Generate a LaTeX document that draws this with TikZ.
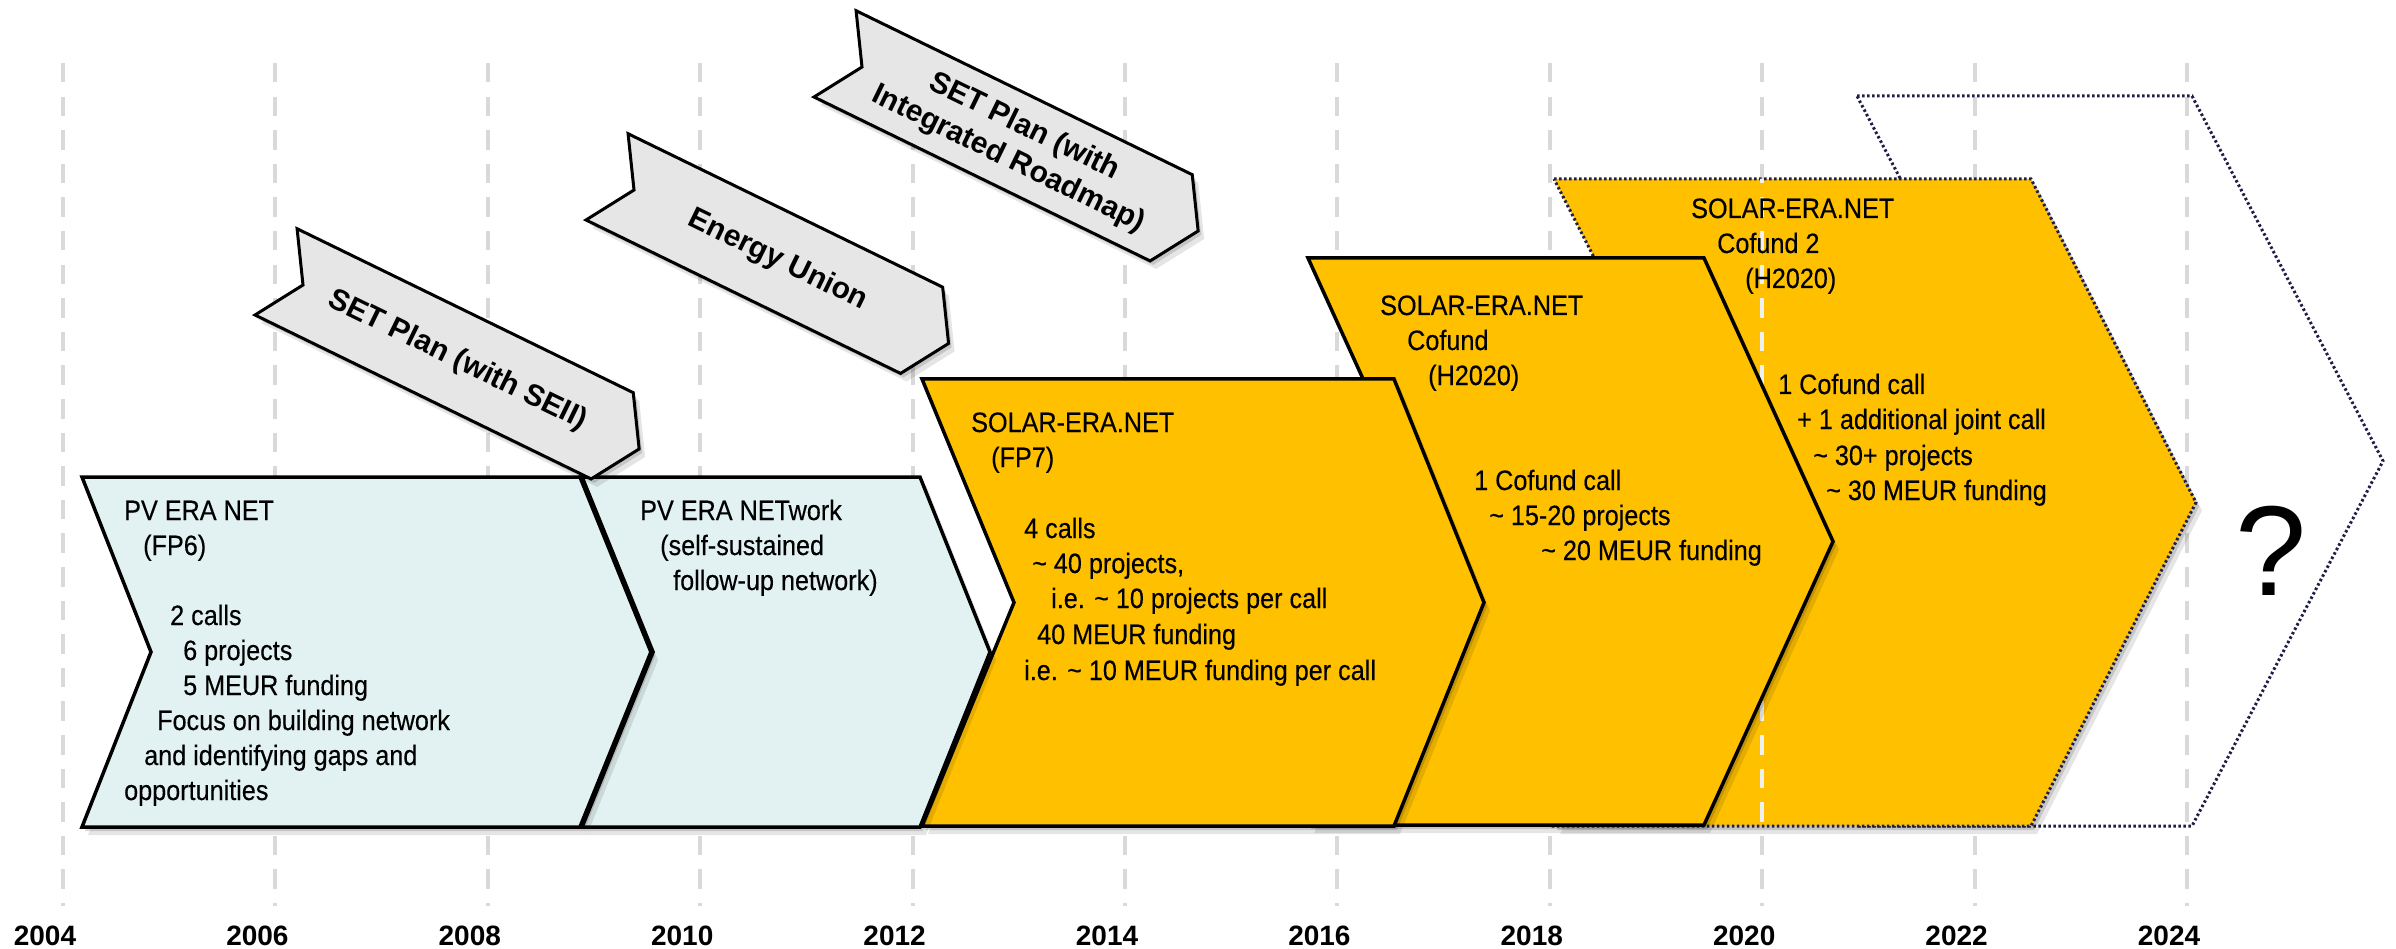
\documentclass[tikz,border=0pt]{standalone}
\usepackage{fontspec}
\setmainfont{Liberation Sans}
\newfontfamily\narrowf[FakeStretch=0.9,FakeBold=0.3]{Liberation Sans}
\definecolor{chblue}{RGB}{226,241,241}
\definecolor{chorange}{RGB}{255,192,0}
\definecolor{bgray}{RGB}{230,230,230}
\definecolor{gridc}{RGB}{217,217,217}
\definecolor{dotc}{RGB}{30,30,70}
\begin{document}
\begin{tikzpicture}[x=1pt,y=-1pt,
  gridline/.style={gridc, line width=4pt, dash pattern=on 19.5pt off 14.1pt},
  chev/.style={draw=black, line width=3.5pt, line join=miter},
  dotborder/.style={draw=dotc, line width=3pt, dash pattern=on 2.5pt off 2.5pt},
  shad/.style={preaction={fill=black, opacity=.14, transform canvas={xshift=3pt,yshift=-4pt}},
               preaction={fill=black, opacity=.10, transform canvas={xshift=6pt,yshift=-8pt}}},
  ctext/.style={font=\narrowf\fontsize{28}{35}\selectfont, inner sep=0pt, anchor=base west},
  btext/.style={font=\bfseries\fontsize{30}{36}\selectfont, inner sep=0pt, align=center, rotate=-26},
  yeartext/.style={font=\bfseries\fontsize{28}{30}\selectfont, inner sep=0pt, anchor=base},
  banner/.style={draw=black, line width=3pt, fill=bgray, line join=miter}]
\useasboundingbox (0,0) rectangle (2396,949);

% grid lines
\foreach \k in {0,...,10} {\draw[gridline] ({63+212.4*\k},63) -- ({63+212.4*\k},906);}
% year labels
\foreach \k/\yr in {0/2004,1/2006,2/2008,3/2010,4/2012,5/2014,6/2016,7/2018,8/2020,9/2022,10/2024}
  {\node[yeartext] (yr\yr) at ({45+212.4*\k},945) {\yr};}

% chevron 6 (future)
\draw[dotborder] (1857,96) -- (2192,96) -- (2383,461) -- (2192,826) -- (1857,826) -- (2048,461) -- cycle;
\node[font=\fontsize{128}{128}\selectfont, inner sep=0pt] (qm) at (2271,551) {?};

% chevron 5
\path[shad, fill=chorange] (1554,179) -- (2031,179) -- (2196,502.5) -- (2031,826) -- (1554,826) -- (1719,502.5) -- cycle;
\draw[dotborder] (1554,179) -- (2031,179) -- (2196,502.5) -- (2031,826) -- (1554,826) -- (1719,502.5) -- cycle;
\begin{scope}
  \clip (1554,179) -- (2031,179) -- (2196,502.5) -- (2031,826) -- (1554,826) -- (1719,502.5) -- cycle;
  \draw[gridline, draw=white!88!gray] (1762.2,63) -- (1762.2,906);
\end{scope}

% chevron 4
\filldraw[chev, shad, fill=chorange] (1308,258) -- (1704,258) -- (1833,541.5) -- (1704,825) -- (1308,825) -- (1437,541.5) -- cycle;

% chevron 3
\filldraw[chev, shad, fill=chorange] (922,379) -- (1394,379) -- (1484,602.5) -- (1394,826) -- (922,826) -- (1014,602.5) -- cycle;

% chevron 2
\filldraw[chev, shad, fill=chblue] (581,477) -- (920,477) -- (990,652) -- (920,827) -- (581,827) -- (652,652) -- cycle;

% chevron 1
\filldraw[chev, shad, fill=chblue] (82,477) -- (581,477) -- (652,652) -- (581,827) -- (82,827) -- (151,652) -- cycle;
\draw[line width=5.5pt, line join=miter] (581,477) -- (652,652) -- (581,827);

% banners
\begin{scope}[shift={(255,315)}, rotate=-26]
  \filldraw[banner, shad] (0,0) -- (30,-48) -- (0,-96) -- (374,-96) -- (404,-48) -- (374,0) -- cycle;
  \node[btext] (b1) at (202,-48) {SET Plan (with SEII)};
\end{scope}
\begin{scope}[shift={(586,220)}, rotate=-26]
  \filldraw[banner, shad] (0,0) -- (30,-48) -- (0,-96) -- (350,-96) -- (380,-48) -- (350,0) -- cycle;
  \node[btext] (b2) at (190,-48) {Energy Union};
\end{scope}
\begin{scope}[shift={(814,97)}, rotate=-26]
  \filldraw[banner, shad] (0,0) -- (30,-48) -- (0,-96) -- (374,-96) -- (404,-48) -- (374,0) -- cycle;
  \node[btext] (b3) at (202,-47) {SET Plan (with\\Integrated Roadmap)};
\end{scope}

% chevron texts
\foreach \x/\y/\txt [count=\i] in {
  124/520/{PV ERA NET}, 143/555/{(FP6)}, 170/625/{2 calls}, 183/660/{6 projects},
  183/695/{5 MEUR funding}, 157/730/{Focus on building network},
  144/765/{and identifying gaps and}, 124/800/{opportunities}}
  {\node[ctext] (ca\i) at (\x,\y) {\txt};}
\foreach \x/\y/\txt [count=\i] in {
  640/520/{PV ERA NETwork}, 660/555/{(self-sustained}, 673/590/{follow-up network)}}
  {\node[ctext] (cb\i) at (\x,\y) {\txt};}
\foreach \x/\y/\txt [count=\i] in {
  971/432/{SOLAR-ERA.NET}, 991/467/{(FP7)}, 1024/538/{4 calls},
  1032/573/{\textasciitilde{} 40 projects,}, 1051/608/{i.e. \textasciitilde{} 10 projects per call},
  1037/644/{40 MEUR funding}, 1024/680/{i.e. \textasciitilde{} 10 MEUR funding per call}}
  {\node[ctext] (cc\i) at (\x,\y) {\txt};}
\foreach \x/\y/\txt [count=\i] in {
  1380/315/{SOLAR-ERA.NET}, 1407/350/{Cofund}, 1428/385/{(H2020)},
  1474/490/{1 Cofund call}, 1489/525/{\textasciitilde{} 15-20 projects},
  1541/560/{\textasciitilde{} 20 MEUR funding}}
  {\node[ctext] (cd\i) at (\x,\y) {\txt};}
\foreach \x/\y/\txt [count=\i] in {
  1691/218/{SOLAR-ERA.NET}, 1717/253/{Cofund 2}, 1745/288/{(H2020)},
  1778/394/{1 Cofund call}, 1797/429/{+ 1 additional joint call},
  1813/465/{\textasciitilde{} 30+ projects}, 1826/500/{\textasciitilde{} 30 MEUR funding}}
  {\node[ctext] (ce\i) at (\x,\y) {\txt};}
\end{tikzpicture}
\end{document}
